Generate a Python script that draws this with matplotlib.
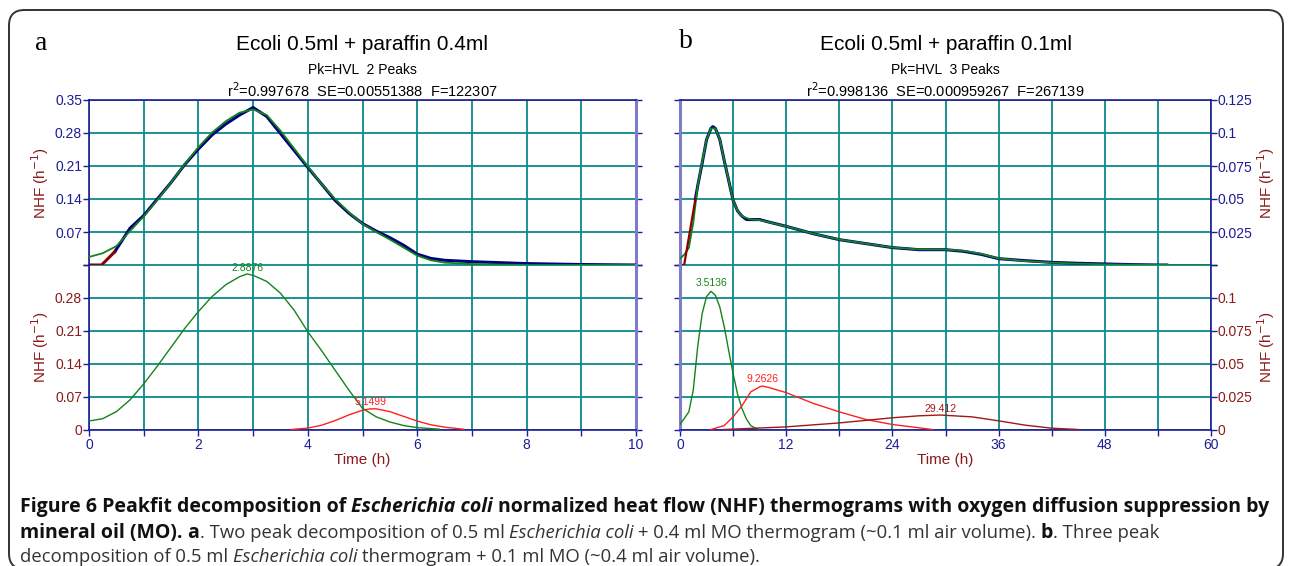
import numpy as np
import matplotlib
matplotlib.use("Agg")
import matplotlib.pyplot as plt
from matplotlib.patches import FancyBboxPatch

W, H = 1290, 566

# ---------------- panel a data (Ecoli 0.5ml + paraffin 0.4ml) ----------------
a_lead_x = [0.0, 0.23, 0.47]
a_lead_y = [0.0, 0.0, 0.028]
a_data_x = [0.47, 0.75, 1.0, 1.25, 1.5, 1.75, 2.0, 2.25, 2.5, 2.75, 3.0, 3.25, 3.5,
            3.75, 4.0, 4.25, 4.5, 4.75, 5.0, 5.25, 5.5, 5.75, 6.0, 6.25, 6.5, 7.0,
            7.5, 8.0, 9.0, 10.0]
a_data_y = [0.028, 0.078, 0.105, 0.140, 0.175, 0.213, 0.246, 0.276, 0.299, 0.318,
            0.334, 0.315, 0.279, 0.243, 0.207, 0.172, 0.137, 0.110, 0.088, 0.072,
            0.058, 0.042, 0.023, 0.014, 0.010, 0.007, 0.005, 0.003, 0.001, 0.0]
a_fit_x = [0.0, 0.25, 0.5, 0.75, 1.0, 1.25, 1.5, 1.75, 2.0, 2.25, 2.5, 2.75, 3.0,
           3.25, 3.5, 3.75, 4.0, 4.25, 4.5, 4.75, 5.0, 5.25, 5.5, 5.75, 6.0, 6.25,
           6.5, 7.0, 8.0, 10.0]
a_fit_y = [0.017, 0.025, 0.040, 0.072, 0.103, 0.138, 0.175, 0.214, 0.250, 0.281,
           0.305, 0.323, 0.330, 0.318, 0.285, 0.247, 0.209, 0.172, 0.140, 0.112,
           0.087, 0.070, 0.054, 0.037, 0.020, 0.010, 0.005, 0.002, 0.0, 0.0]
a_pk1_x = [0.0, 0.25, 0.5, 0.75, 1.0, 1.25, 1.5, 1.75, 2.0, 2.25, 2.5, 2.75, 2.89,
           3.0, 3.25, 3.5, 3.75, 4.0, 4.25, 4.5, 4.75, 5.0, 5.25, 5.5, 5.75, 6.0, 6.4]
a_pk1_y = [0.018, 0.023, 0.038, 0.063, 0.097, 0.135, 0.175, 0.215, 0.251, 0.283,
           0.308, 0.325, 0.331, 0.328, 0.315, 0.290, 0.254, 0.208, 0.168, 0.126,
           0.084, 0.045, 0.027, 0.016, 0.0085, 0.004, 0.0007]
a_pk2_x = [3.7, 4.0, 4.25, 4.5, 4.75, 5.0, 5.15, 5.25, 5.5, 5.75, 6.0, 6.25, 6.5, 6.85]
a_pk2_y = [0.0, 0.003, 0.009, 0.019, 0.031, 0.041, 0.044, 0.044, 0.038, 0.028,
           0.018, 0.010, 0.005, 0.0005]
a_peaks = ["2.8876", "5.1499"]

# ---------------- panel b data (Ecoli 0.5ml + paraffin 0.1ml) ----------------
b_lead_x = [0.0, 0.47, 1.74]
b_lead_y = [0.0, 0.0, 0.050]
b_data_x = [1.74, 2.0, 2.5, 3.0, 3.5, 3.7, 4.0, 4.5, 5.0, 5.5, 6.0, 6.5, 7.0, 7.5,
            8.0, 9.0, 10, 12, 15, 18, 21, 24, 27, 30, 32, 34, 36, 39, 42, 45, 48,
            51, 54, 55]
b_data_y = [0.050, 0.060, 0.077, 0.095, 0.1035, 0.1048, 0.1035, 0.095, 0.079, 0.064,
            0.049, 0.041, 0.037, 0.0345, 0.0344, 0.0344, 0.0326, 0.0293, 0.0238,
            0.0192, 0.0162, 0.0132, 0.0116, 0.0116, 0.0104, 0.0081, 0.0048, 0.0033,
            0.002, 0.0013, 0.0008, 0.0003, 0.0, 0.0]
b_fit_x = [0, 0.5, 1, 1.5, 2, 2.5, 3, 3.5, 4, 4.5, 5, 5.5, 6, 6.5, 7, 8, 9, 10, 12,
           15, 18, 21, 24, 27, 30, 32, 34, 36, 39, 42, 45, 48, 51, 54, 57, 60]
b_fit_y = [0.0048, 0.008, 0.013, 0.032, 0.060, 0.078, 0.095, 0.1035, 0.1035, 0.095,
           0.079, 0.064, 0.049, 0.041, 0.037, 0.0345, 0.0340, 0.0325, 0.0293, 0.0238,
           0.0193, 0.0162, 0.0133, 0.0118, 0.0117, 0.0108, 0.0085, 0.0050, 0.0030,
           0.0018, 0.0010, 0.0005, 0.0002, 0.0001, 0.0, 0.0]
b_pk1_x = [0, 1, 1.5, 2, 2.5, 3, 3.5, 4, 4.5, 5, 5.5, 6, 6.5, 7, 7.5, 8, 8.5, 9]
b_pk1_y = [0.0038, 0.0134, 0.030, 0.063, 0.088, 0.101, 0.105, 0.102, 0.093, 0.078,
           0.060, 0.0425, 0.027, 0.016, 0.008, 0.003, 0.001, 0.0]
b_pk2_x = [3.5, 5, 6, 7, 8, 9, 9.26, 10, 12, 15, 18, 21, 24, 27, 28.5]
b_pk2_y = [0.0, 0.003, 0.0096, 0.018, 0.0286, 0.0324, 0.033, 0.032, 0.028, 0.020,
           0.0134, 0.0076, 0.0038, 0.0013, 0.0]
b_pk3_x = [5, 12, 18, 24, 27, 29.4, 33, 36, 39, 42, 45]
b_pk3_y = [0.0, 0.002, 0.005, 0.0089, 0.0104, 0.011, 0.0096, 0.0066, 0.0033, 0.001, 0.0]
b_peaks = ["3.5136", "9.2626", "29.412"]

a_yt = [0, 0.07, 0.14, 0.21, 0.28, 0.35]
a_ytl_up = ["", "0.07", "0.14", "0.21", "0.28", "0.35"]
a_ytl_lo = ["0", "0.07", "0.14", "0.21", "0.28", ""]
b_yt = [0, 0.025, 0.05, 0.075, 0.1, 0.125]
b_ytl_up = ["", "0.025", "0.05", "0.075", "0.1", "0.125"]
b_ytl_lo = ["0", "0.025", "0.05", "0.075", "0.1", ""]
a_xt = list(range(0, 11))
a_xtl = ["0", "", "2", "", "4", "", "6", "", "8", "", "10"]
b_xt = list(range(0, 61, 6))
b_xtl = ["0", "", "12", "", "24", "", "36", "", "48", "", "60"]

NAVY = "#1c1c96"
LAV = "#7e7ec8"
TEAL = "#0a8a8a"
DRED = "#8b1a1a"
GREEN = "#14841a"
RED = "#ff2020"
SANS = ["Liberation Sans", "DejaVu Sans"]
CAPF = ["Open Sans", "Noto Sans", "DejaVu Sans"]

plt.rcParams["font.family"] = SANS

fig = plt.figure(figsize=(W / 100, H / 100), dpi=100)


def box(x0, x1, y0, y1):
    return [x0 / W, 1 - y1 / H, (x1 - x0) / W, (y1 - y0) / H]


def style_axis(ax, xt, xtl, yt, ytl, xmax, ymax, ycol, side, lav_side, bottom):
    ax.set_xlim(0, xmax)
    ax.set_ylim(0, ymax)
    ax.set_xticks(xt)
    ax.set_yticks(yt)
    ax.set_yticklabels(ytl)
    ax.grid(True, color=TEAL, lw=1.3)
    ax.set_axisbelow(True)
    for s in ax.spines.values():
        s.set_color(NAVY)
        s.set_linewidth(1.2)
    ax.spines[lav_side].set_color(LAV)
    ax.spines[lav_side].set_linewidth(2.2)
    if bottom:
        ax.set_xticklabels(xtl)
        ax.spines["top"].set_visible(False)
    else:
        ax.set_xticklabels([])
        ax.spines["bottom"].set_visible(False)
    ax.tick_params(axis="x", colors=NAVY, labelsize=10, length=4, width=1, pad=2)
    ax.tick_params(axis="y", left=True, right=True, direction="out", length=4,
                   width=1, color=NAVY, labelcolor=ycol, labelsize=10, pad=1,
                   labelleft=(side == "left"), labelright=(side == "right"))
    if not bottom:
        ax.tick_params(axis="x", length=0)


# panel a
a_up = fig.add_axes(box(89, 636, 100, 265))
a_lo = fig.add_axes(box(89, 636, 265, 429.5))
style_axis(a_up, a_xt, a_xtl, a_yt, a_ytl_up, 10, 0.35, NAVY, "left", "right", False)
style_axis(a_lo, a_xt, a_xtl, a_yt, a_ytl_lo, 10, 0.35, DRED, "left", "right", True)

a_up.plot(a_data_x, a_data_y, color="#000080", lw=2.2, zorder=3)
a_up.plot(a_fit_x, a_fit_y, color=GREEN, lw=1.3, zorder=4)
a_up.plot(a_lead_x, a_lead_y, color="#8b0000", lw=2.2, zorder=5)
a_lo.plot(a_pk1_x, a_pk1_y, color=GREEN, lw=1.0, zorder=3)
a_lo.plot(a_pk2_x, a_pk2_y, color=RED, lw=1.0, zorder=3)
a_lo.text(2.89, 0.334, a_peaks[0], color=GREEN, fontsize=7.5, ha="center", va="bottom",
          zorder=6)
a_lo.text(5.15, 0.047, a_peaks[1], color=RED, fontsize=7.5, ha="center", va="bottom",
          zorder=6)

# panel b
b_up = fig.add_axes(box(680, 1211, 100, 265))
b_lo = fig.add_axes(box(680, 1211, 265, 429.5))
style_axis(b_up, b_xt, b_xtl, b_yt, b_ytl_up, 60, 0.125, NAVY, "right", "left", False)
style_axis(b_lo, b_xt, b_xtl, b_yt, b_ytl_lo, 60, 0.125, DRED, "right", "left", True)

b_up.plot(b_data_x, b_data_y, color="#000080", lw=2.2, zorder=3)
b_up.plot(b_fit_x, b_fit_y, color=GREEN, lw=1.3, zorder=4)
b_up.plot(b_lead_x, b_lead_y, color="#8b0000", lw=1.6, zorder=5)
b_lo.plot(b_pk1_x, b_pk1_y, color=GREEN, lw=1.0, zorder=3)
b_lo.plot(b_pk2_x, b_pk2_y, color=RED, lw=1.0, zorder=3)
b_lo.plot(b_pk3_x, b_pk3_y, color="#a01818", lw=1.0, zorder=3)
b_lo.text(3.6, 0.1075, b_peaks[0], color=GREEN, fontsize=7.5, ha="center", va="bottom",
          zorder=6)
b_lo.text(9.3, 0.0345, b_peaks[1], color=RED, fontsize=7.5, ha="center", va="bottom",
          zorder=6)
b_lo.text(29.4, 0.0118, b_peaks[2], color="#a01818", fontsize=7.5, ha="center",
          va="bottom", zorder=6)

# axis labels
nhf = "NHF (h$^{-1}$)"
for x, y in [(40, 183), (40, 347), (1266, 183), (1266, 347)]:
    fig.text(x / W, 1 - y / H, nhf, color=DRED, fontsize=11, rotation=90,
             ha="center", va="center")
a_lo.set_xlabel("Time (h)", color=DRED, fontsize=11, labelpad=1)
b_lo.set_xlabel("Time (h)", color=DRED, fontsize=11, labelpad=1)

# titles
for cx, t1, t2, t3 in [
    (362.5, "Ecoli 0.5ml + paraffin 0.4ml", "Pk=HVL  2 Peaks",
     "r$^2$=0.997678  SE=0.00551388  F=122307"),
    (945.5, "Ecoli 0.5ml + paraffin 0.1ml", "Pk=HVL  3 Peaks",
     "r$^2$=0.998136  SE=0.000959267  F=267139"),
]:
    fig.text(cx / W, 1 - 45 / H, t1, ha="center", va="center", fontsize=15)
    fig.text(cx / W, 1 - 70 / H, t2, ha="center", va="center", fontsize=10)
    fig.text(cx / W, 1 - 91 / H, t3, ha="center", va="center", fontsize=10.5)
fig.text(35 / W, 1 - 44 / H, "a", ha="left", va="center", fontsize=20,
         family=["Liberation Serif", "DejaVu Serif"])
fig.text(679 / W, 1 - 42 / H, "b", ha="left", va="center", fontsize=20,
         family=["Liberation Serif", "DejaVu Serif"])

# frame
frame = FancyBboxPatch((9 / W, 1 - 569 / H), 1274 / W, 559 / H,
                       boxstyle="round,pad=0,rounding_size=0.012",
                       transform=fig.transFigure, fill=False, ec="#333333", lw=1.4,
                       mutation_aspect=W / H)
fig.patches.append(frame)

# caption, pieced together
cap_lines = [
    (507, [("Figure 6 Peakfit decomposition of ", "bold", "normal"),
           ("Escherichia coli", "bold", "italic"),
           (" normalized heat flow (NHF) thermograms with oxygen diffusion suppression by",
            "bold", "normal")]),
    (533, [("mineral oil (MO). ", "bold", "normal"), ("a", "bold", "normal"),
           (". Two peak decomposition of 0.5 ml ", "normal", "normal"),
           ("Escherichia coli", "normal", "italic"),
           (" + 0.4 ml MO thermogram (~0.1 ml air volume). ", "normal", "normal"),
           ("b", "bold", "normal"), (". Three peak", "normal", "normal")]),
    (557, [("decomposition of 0.5 ml ", "normal", "normal"),
           ("Escherichia coli", "normal", "italic"),
           (" thermogram + 0.1 ml MO (~0.4 ml air volume).", "normal", "normal")]),
]
fig.canvas.draw()
rend = fig.canvas.get_renderer()


def text_w(s, weight, style, fs):
    t = fig.text(0, 0, s, fontsize=fs, weight=weight, style=style, family=CAPF)
    w = t.get_window_extent(rend).width
    t.remove()
    return w


def line_w(pieces, fs):
    tot = 0
    for s, weight, style in pieces:
        sp = text_w("a a", weight, style, fs) - text_w("aa", weight, style, fs)
        core = s.strip(" ")
        tot += (len(s) - len(core)) * sp + text_w(core, weight, style, fs)
    return tot


cap_fs = 12.0 * 1248 / line_w(cap_lines[0][1], 12.0)
reg_fs = cap_fs * 0.95

for y, pieces in cap_lines:
    x = 20
    for s, weight, style in pieces:
        fs = cap_fs if weight == "bold" else reg_fs
        sp = text_w("a a", weight, style, fs) - text_w("aa", weight, style, fs)
        lead = len(s) - len(s.lstrip(" "))
        trail = len(s) - len(s.rstrip(" "))
        core = s.strip(" ")
        x += lead * sp
        col = "#111111" if weight == "bold" else "#333333"
        fig.text(x / W, 1 - y / H, core, fontsize=fs, weight=weight, style=style,
                 family=CAPF, va="center", color=col)
        x += text_w(core, weight, style, fs) + trail * sp

fig.savefig("out.png", dpi=100)
